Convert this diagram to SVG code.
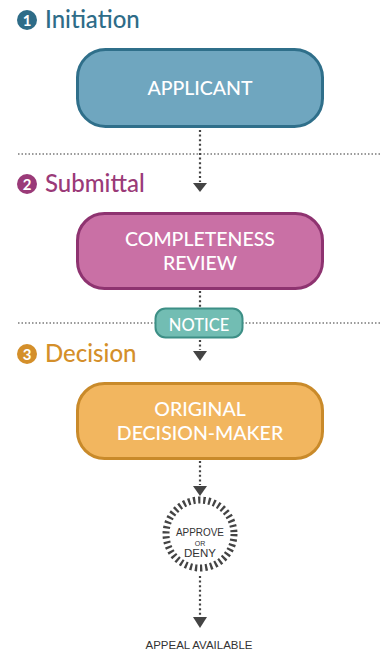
<svg xmlns="http://www.w3.org/2000/svg" width="384" height="654" viewBox="0 0 384 654">
<defs>
<style>
.h{font-family:Lato,"Open Sans",sans-serif;font-size:24px;font-weight:500}
.n{font-family:Lato,"Open Sans",sans-serif;font-size:19.5px;fill:#fff;text-anchor:middle;font-weight:500}
.num{font-family:Lato,sans-serif;font-size:15px;fill:#fff;text-anchor:middle;font-weight:700}
.sep{stroke:#9a9a9a;stroke-width:2;stroke-dasharray:1.5 2}
.con{stroke:#444;stroke-width:2.2;stroke-dasharray:2 2.6;fill:none}
.arr{fill:#444}
.sm{font-family:"Liberation Sans",Arial,sans-serif;fill:#333;text-anchor:middle}
</style>
</defs>
<rect width="384" height="654" fill="#fff"/>
<g id="separators">
<line class="sep" x1="18" y1="154" x2="382" y2="154"/>
<line class="sep" x1="18" y1="323" x2="382" y2="323"/>
</g>
<g id="headings">
<circle cx="27" cy="20" r="10" fill="#2e6c88"/><text class="num" x="27" y="25.5">1</text>
<text class="h" x="45" y="28" fill="#2e6c88">Initiation</text>
<circle cx="27" cy="184" r="10" fill="#9a3a78"/><text class="num" x="27" y="189.5">2</text>
<text class="h" x="45" y="192" fill="#9a3a78">Submittal</text>
<circle cx="27" cy="354" r="10" fill="#d48f2a"/><text class="num" x="27" y="359.5">3</text>
<text class="h" x="45" y="362" fill="#d48f2a">Decision</text>
</g>
<g id="connectors">
<line class="con" x1="200" y1="130" x2="200" y2="182"/>
<polygon class="arr" points="193,183 207,183 200,192"/>
<line class="con" x1="200" y1="291" x2="200" y2="307"/>
<line class="con" x1="200" y1="340" x2="200" y2="350"/>
<polygon class="arr" points="193,351 207,351 200,361"/>
<line class="con" x1="200" y1="461" x2="200" y2="485"/>
<polygon class="arr" points="193,486 207,486 200,496"/>
<line class="con" x1="200" y1="576" x2="200" y2="616"/>
<polygon class="arr" points="193,617 207,617 200,628"/>
</g>
<g id="applicant">
<rect x="77.5" y="49.5" width="245" height="77" rx="28" fill="#6fa6bf" stroke="#2f6f8a" stroke-width="3"/>
<text class="n" x="200" y="95">APPLICANT</text>
</g>
<g id="completeness">
<rect x="77.5" y="213.5" width="245" height="75" rx="27" fill="#c970a5" stroke="#8e3370" stroke-width="3"/>
<text class="n" x="200" y="246">COMPLETENESS</text>
<text class="n" x="200" y="270">REVIEW</text>
</g>
<g id="notice">
<rect x="155.5" y="308.5" width="87" height="29" rx="10" fill="#72bdb3" stroke="#3d8f86" stroke-width="2"/>
<text class="n" x="199" y="330.5" style="font-size:16.5px">NOTICE</text>
</g>
<g id="decision-maker">
<rect x="77.5" y="383.5" width="245" height="75" rx="27" fill="#f2b65f" stroke="#c98a2a" stroke-width="3"/>
<text class="n" x="200" y="416">ORIGINAL</text>
<text class="n" x="200" y="440">DECISION-MAKER</text>
</g>
<g id="approve-deny">
<circle cx="200" cy="534" r="34" fill="none" stroke="#444" stroke-width="7" stroke-dasharray="2.3 2.8"/>
<text class="sm" x="200" y="536" style="font-size:11.5px" textLength="48" lengthAdjust="spacingAndGlyphs">APPROVE</text>
<text class="sm" x="200" y="546" style="font-size:7px">OR</text>
<text class="sm" x="200" y="557" style="font-size:11.5px">DENY</text>
</g>
<g id="appeal">
<text class="sm" x="199" y="649" style="font-size:11px" textLength="107" lengthAdjust="spacingAndGlyphs">APPEAL AVAILABLE</text>
</g>
</svg>
